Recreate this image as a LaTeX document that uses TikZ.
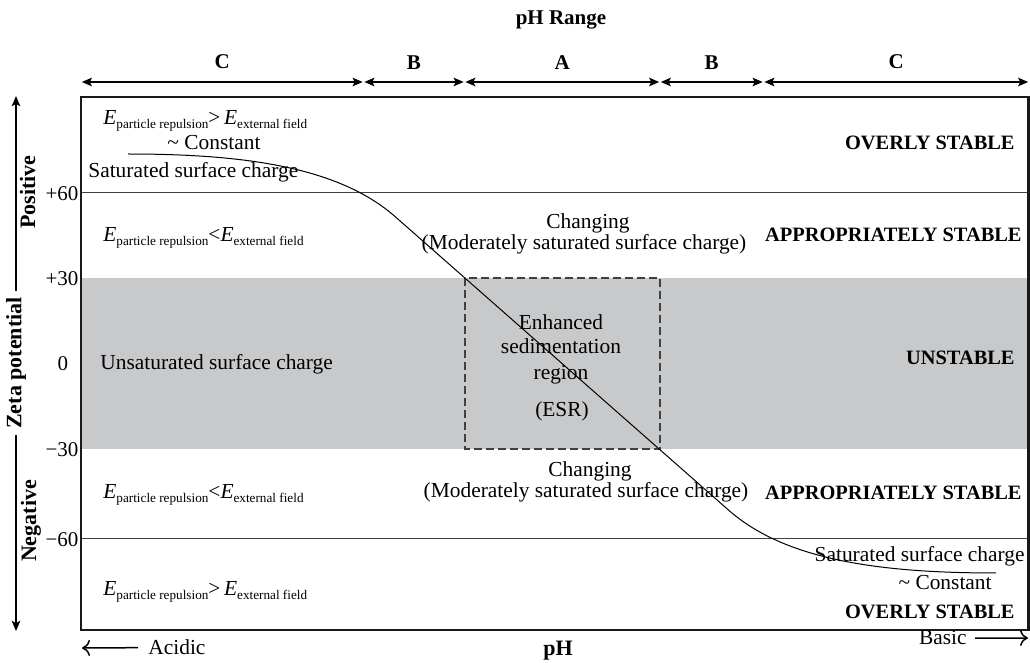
\documentclass[tikz,border=0pt]{standalone}
\usepackage{fontspec}
\setmainfont{Liberation Serif}
\usepackage{tikz}
\usetikzlibrary{arrows.meta,positioning}
\definecolor{bandgray}{RGB}{200,201,203}
\tikzstyle{zetaplot}=[
  >={Stealth[length=5pt,width=4.2pt,inset=1pt]}, x=0.5pt, y=-0.5pt,
  font=\fontsize{10.7}{13}\selectfont
]
\tikzstyle{txt}=[
  inner sep=0pt, anchor=base west
]
\tikzstyle{ctxt}=[
  inner sep=0pt, anchor=base
]
\tikzstyle{regionlbl}=[
  inner sep=0pt, anchor=base east, font=\fontsize{10.2}{12}\selectfont\bfseries
]
\tikzstyle{axislbl}=[
  inner sep=3pt, font=\fontsize{11}{13}\selectfont\bfseries
]
\tikzstyle{ticklbl}=[
  inner sep=0pt, font=\fontsize{10.5}{12}\selectfont
]
\tikzstyle{rangearrow}=[
  <->, line width=0.9pt, shorten <=0.4pt, shorten >=0.4pt
]
\tikzstyle{zarrow}=[
  ->, line width=0.9pt
]
\tikzstyle{phdir}=[
  -{To[length=4pt,width=8pt]}, line width=0.75pt
]
\tikzstyle{zline}=[
  line width=0.5pt, draw=black!75
]
\tikzstyle{esrbox}=[
  line width=0.6pt, draw=black!75, dash pattern=on 4pt off 2pt
]
\tikzstyle{zcurve}=[
  line width=0.5pt
]
\tikzstyle{frame}=[
  line width=1.2pt, draw=black!90
]
\newcommand{\Esub}[1]{\textit{E}\raisebox{-0.35ex}{\fontsize{6.6}{7}\selectfont #1}}

\begin{document}
\begin{tikzpicture}[zetaplot]
    \useasboundingbox (0,0) rectangle (1030,663);

    \fill[bandgray] (81,278) rectangle (1029,449);
    \draw[zline] (81,193) -- (1029,193);
    \draw[zline] (81,539) -- (1029,539);
    \draw[esrbox] (465,278) rectangle (660,449);

    \draw[zcurve] (128,154) .. controls (250,154) and (340,168.5) .. (395,216.5)
      -- (729,510.5) .. controls (784,558.5) and (874,573) .. (996,573);

    % pH range arrows
    \node (title) at (561,25) [ctxt, font=\fontsize{10.5}{12}\selectfont\bfseries] {pH Range};
    \coordinate (c0) at (81,82);
    \coordinate (c1) at (363.5,82);
    \coordinate (c2) at (464.5,82);
    \coordinate (c3) at (660,82);
    \coordinate (c4) at (763.5,82);
    \coordinate (c5) at (1029,82);
    \begin{scope}[every node/.style={inner sep=0pt, font=\fontsize{10.5}{12}\selectfont\bfseries}]
      \draw[rangearrow] (c0) -- (c1) node[midway, above=6pt] (rC1) {C};
      \draw[rangearrow] (c1) -- (c2) node[midway, above=6pt] (rB1) {B};
      \draw[rangearrow] (c2) -- (c3) node[midway, above=6pt] (rA) {A};
      \draw[rangearrow] (c3) -- (c4) node[midway, above=6pt] (rB2) {B};
      \draw[rangearrow] (c4) -- (c5) node[midway, above=6pt] (rC2) {C};
    \end{scope}

    % zeta potential axis
    \node (zeta) at (16,363) [axislbl, rotate=90] {Zeta potential};
    \coordinate (ztop) at (16,96);
    \coordinate (zbot) at (16,631);
    \draw[zarrow] (zeta.east) -- (ztop);
    \draw[zarrow] (zeta.west) -- (zbot);
    \node (pos) at (35,192) [axislbl, inner sep=0pt, rotate=90, anchor=base] {Positive};
    \node (neg) at (36,521) [axislbl, inner sep=0pt, rotate=90, anchor=base] {Negative};

    \node (t60) at (62,194) [ticklbl] {+60};
    \node (t30) at (62,279) [ticklbl] {+30};
    \node (t0) at (63,364) [ticklbl] {0};
    \node (tm30) at (62,450) [ticklbl] {−30};
    \node (tm60) at (62,540) [ticklbl] {−60};

    % left column
    \node (e1) at (103,125) [txt] {\Esub{particle repulsion}>\,\Esub{external field}};
    \node (const1) at (214,150) [ctxt] {\textasciitilde\ Constant};
    \node (sat1) at (88,178) [txt] {Saturated surface charge};
    \node (e2) at (103,242) [txt] {\Esub{particle repulsion}<\Esub{external field}};
    \node (unsat) at (100,370) [txt] {Unsaturated surface charge};
    \node (e3) at (103,499) [txt] {\Esub{particle repulsion}<\Esub{external field}};
    \node (e4) at (103,596) [txt] {\Esub{particle repulsion}>\,\Esub{external field}};

    % middle column
    \node (chg1) at (588,229) [ctxt] {Changing};
    \node (mod1) at (584,250) [ctxt] {(Moderately saturated surface charge)};
    \node (esr1) at (561,330) [ctxt] {Enhanced};
    \node (esr2) at (561,354) [ctxt] {sedimentation};
    \node (esr3) at (561,380) [ctxt] {region};
    \node (esr4) at (562,417) [ctxt] {(ESR)};
    \node (chg2) at (590,477) [ctxt] {Changing};
    \node (mod2) at (586,498) [ctxt] {(Moderately saturated surface charge)};

    % right column
    \node (over1) at (1015,150) [regionlbl] {OVERLY STABLE};
    \node (appr1) at (1022,242) [regionlbl] {APPROPRIATELY STABLE};
    \node (unst) at (1015,365) [regionlbl] {UNSTABLE};
    \node (appr2) at (1022,500) [regionlbl] {APPROPRIATELY STABLE};
    \node (sat2) at (1025,562) [txt, anchor=base east] {Saturated surface charge};
    \node (const2) at (992,590) [txt, anchor=base east] {\textasciitilde\ Constant};
    \node (over2) at (1015,618) [regionlbl] {OVERLY STABLE};

    \draw[frame] (81,97) rectangle (1028.4,630);

    % pH axis
    \node (acidic) at (148,655) [txt] {Acidic};
    \node (ph) at (558,656) [ctxt, font=\fontsize{11}{13}\selectfont\bfseries] {pH};
    \node (basic) at (967,645) [txt, anchor=base east] {Basic};
    \coordinate (acidend) at (82,648);
    \coordinate (basicend) at (1028,638);
    \draw[phdir] ([xshift=-5pt]acidic.west) -- (acidend);
    \draw[phdir] ([xshift=4pt]basic.east) -- (basicend);

\end{tikzpicture}
\end{document}
